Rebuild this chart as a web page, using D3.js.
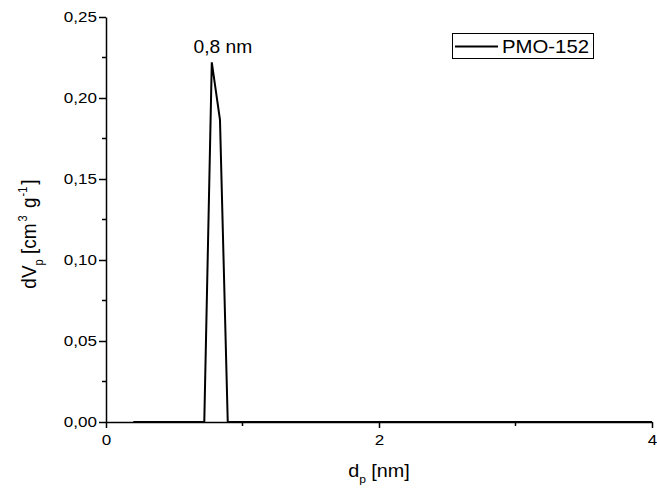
<!DOCTYPE html>
<html><head><meta charset="utf-8">
<script src="https://cdn.jsdelivr.net/npm/d3@7"></script>
<style>body{margin:0;background:#fff}svg{display:block}text{font-family:"Liberation Sans",Arial,sans-serif;fill:#000}</style>
</head><body><svg id="c" width="657" height="494"></svg>
<script>
const dp = [0.2, 0.4, 0.6, 0.72, 0.775, 0.835, 0.892, 1.2, 2.0, 3.0, 4.0];
const dV = [0, 0, 0, 0, 0.222, 0.1865, 0, 0, 0, 0, 0];
const xTicks = [0, 2, 4];
const xMinor = [1, 3];
const yTicks = [0, 0.05, 0.10, 0.15, 0.20, 0.25];
const yMinor = [0.025, 0.075, 0.125, 0.175, 0.225];
const seriesName = "PMO-152";
const peakLabel = "0,8 nm";

const SX = 1.1;
const svg = d3.select("#c");
const x = d3.scaleLinear().domain([0, 4]).range([106, 652]);
const y = d3.scaleLinear().domain([0, 0.25]).range([422, 17]);
const fmt = v => d3.format(".2f")(v).replace(".", ",");

const xa = svg.append("g").attr("transform", `translate(0,${y(0)})`)
  .call(d3.axisBottom(x).tickValues(xTicks).tickFormat(d => d).tickSize(6).tickSizeOuter(0).tickPadding(6));
xa.append("g").selectAll("line").data(xMinor).join("line")
  .attr("x1", d => x(d)).attr("x2", d => x(d)).attr("y1", 0).attr("y2", 4).attr("stroke", "#000").attr("stroke-width", 1.5);
const ya = svg.append("g").attr("transform", `translate(${x(0)},0)`)
  .call(d3.axisLeft(y).tickValues(yTicks).tickFormat(fmt).tickSize(7).tickSizeOuter(0).tickPadding(2));
ya.append("g").selectAll("line").data(yMinor).join("line")
  .attr("y1", d => y(d)).attr("y2", d => y(d)).attr("x1", 0).attr("x2", -4).attr("stroke", "#000").attr("stroke-width", 1.5);
[xa, ya].forEach(a => {
  a.selectAll(".domain").attr("stroke", "#000").attr("stroke-width", 1.5);
  a.selectAll(".tick line").attr("stroke", "#000").attr("stroke-width", 1.5);
  a.selectAll(".tick text").attr("font-size", 15.5).attr("font-family", "Liberation Sans, Arial, sans-serif")
    .attr("transform", `scale(${SX},1)`);
});
ya.selectAll(".tick text").attr("x", -9 / SX);

const pts = dp.map((d, i) => [d, dV[i]]);
svg.append("path").datum(pts)
  .attr("d", d3.line().x(d => x(d[0])).y(d => y(d[1])))
  .attr("fill", "none").attr("stroke", "#000").attr("stroke-width", 2).attr("stroke-linejoin", "miter");

svg.append("g").attr("transform", `translate(${x(0.79) + 9},53) scale(${SX},1)`)
  .append("text").attr("text-anchor", "middle").attr("font-size", 17.5).text(peakLabel);

// legend
const lg = svg.append("g");
lg.append("rect").attr("x", 452.5).attr("y", 33.5).attr("width", 141).attr("height", 25).attr("fill", "#fff").attr("stroke", "#000").attr("stroke-width", 1);
lg.append("line").attr("x1", 455).attr("x2", 498).attr("y1", 46.5).attr("y2", 46.5).attr("stroke", "#000").attr("stroke-width", 2);
lg.append("g").attr("transform", `translate(502,53) scale(1.1,1)`)
  .append("text").attr("font-size", 18.5).text(seriesName);

// axis titles
const xt = svg.append("g").attr("transform", `translate(${x(2)},477) scale(${SX},1)`)
  .append("text").attr("text-anchor", "middle").attr("font-size", 18);
xt.append("tspan").text("d");
xt.append("tspan").attr("font-size", 11).attr("dy", 6).text("p");
xt.append("tspan").attr("dy", -6).text(" [nm]");

const yt = svg.append("g").attr("transform", `translate(36,234) scale(${SX},1) rotate(-90)`)
  .append("text").attr("text-anchor", "middle").attr("font-size", 19);
yt.append("tspan").text("dV");
yt.append("tspan").attr("font-size", 11).attr("dy", 6).text("p");
yt.append("tspan").attr("dy", -6).text(" [cm");
yt.append("tspan").attr("font-size", 11).attr("dy", -8).attr("dx", 2).text("3");
yt.append("tspan").attr("dy", 8).attr("dx", 2).text(" g");
yt.append("tspan").attr("font-size", 11).attr("dy", -8).attr("dx", 1).text("-1");
yt.append("tspan").attr("dy", 8).attr("dx", 2).text("]");
</script></body></html>
